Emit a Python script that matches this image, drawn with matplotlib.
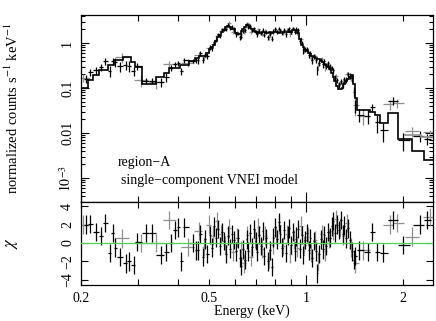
import numpy as np
import matplotlib
matplotlib.use('Agg')
import matplotlib.pyplot as plt
from matplotlib.ticker import FixedLocator, FuncFormatter, NullFormatter

# --- black data set: bin centre (keV), model (counts/s/keV), residual chi, relative error
e_black = [0.2074, 0.2134, 0.2225, 0.2310, 0.2378, 0.2461, 0.2513, 0.2548, 0.2640, 0.2753,
           0.2813, 0.2920, 0.2985, 0.3190, 0.3312, 0.3548, 0.3678, 0.3807, 0.3921, 0.4003,
           0.4096, 0.4185, 0.4455, 0.4555,
           0.462, 0.470, 0.478, 0.486, 0.494, 0.502, 0.510, 0.518, 0.526, 0.534,
           0.542, 0.550, 0.558, 0.566, 0.574, 0.582, 0.590, 0.598, 0.606, 0.614,
           0.622, 0.630, 0.638, 0.646, 0.654, 0.662, 0.670, 0.679, 0.688, 0.697,
           0.706, 0.715, 0.724, 0.733, 0.742, 0.752, 0.762, 0.772, 0.782, 0.792,
           0.802, 0.812, 0.822, 0.833, 0.844, 0.855, 0.866, 0.877, 0.888, 0.899,
           0.910, 0.922, 0.934, 0.946, 0.958, 0.970, 0.982, 0.994, 1.006, 1.019,
           1.032, 1.045, 1.058, 1.071, 1.085, 1.099, 1.113, 1.127, 1.141, 1.156,
           1.171, 1.186, 1.201, 1.217, 1.233, 1.249, 1.265, 1.282, 1.299, 1.316,
           1.334, 1.352, 1.370, 1.388, 1.406, 1.424,
           1.461, 1.558, 1.603, 1.662, 1.734, 1.863, 2.001, 2.260, 2.376]
model_black = [0.10, 0.15, 0.19, 0.25, 0.25, 0.32, 0.32, 0.42, 0.42, 0.49,
               0.49, 0.38, 0.30, 0.12, 0.12, 0.176, 0.215, 0.28, 0.28, 0.28,
               0.33, 0.33, 0.40, 0.46,
               0.46, 0.52, 0.52, 0.52, 0.6, 0.72, 0.8, 0.88, 1.1, 1.35,
               1.5, 1.8, 1.95, 2.25, 2.4, 2.3, 2.1, 2.0, 1.7, 1.55,
               1.6, 1.85, 2.0, 2.3, 2.5, 2.45, 2.2, 2.0, 1.85, 1.75,
               1.72, 1.68, 1.7, 1.72, 1.75, 1.7, 1.68, 1.72, 1.7, 1.74,
               1.76, 1.72, 1.7, 1.75, 1.78, 1.72, 1.75, 1.8, 1.82, 1.78,
               1.9, 1.95, 1.9, 1.7, 1.2, 0.9, 0.8, 0.7, 0.65, 0.6,
               0.56, 0.52, 0.5, 0.47, 0.45, 0.43, 0.4, 0.37, 0.35, 0.33,
               0.3, 0.27, 0.22, 0.18, 0.14, 0.11, 0.095, 0.095, 0.10, 0.12,
               0.14, 0.16, 0.18, 0.19, 0.12, 0.06,
               0.032, 0.032, 0.030, 0.025, 0.017, 0.028, 0.0075, 0.004, 0.0025]
chi_black = [2.0, 2.05, 1.2, 0.75, 2.15, -1.1, 1.1, -0.5, -1.5, -2.2,
             -2.0, -2.4, 0.1, 1.1, 1.1, -1.3, -1.0, 0.0, 1.4, 1.7,
             -2.0, 1.7, 0.0, -0.8,
             -0.8, 1.0, -1.5, 0.4, -1.2, 0.9, -0.5, 1.8, 0.6, 1.5,
             -0.3, 1.2, 0.2, -1.2, 0.8, -0.6, 1.0, 0.3, -0.9, 0.5,
             -1.6, -2.5, -0.7, -1.8, 0.4, -0.9, 1.1, -0.4, 1.5, 0.2,
             -1.0, 0.9, -0.3, 1.3, -1.4, 0.5, -2.0, -0.8, -2.6, 0.6,
             1.7, 0.4, 2.3, 1.0, -0.5, 1.4, -1.1, 0.8, 1.6, -0.2,
             1.2, -0.9, 0.7, 1.5, -0.6, 0.9, -1.3, 0.3, 1.1, -0.8,
             0.5, -1.6, 0.2, -0.9, -3.3, -1.2, 0.4, -0.7, 0.9, -0.3,
             1.2, 0.6, 1.8, 2.4, 1.1, 2.0, 1.4, 2.5, 1.0, 1.9,
             0.5, 1.6, 0.3, -0.9, -1.8, -1.4,
             -0.8, -1.0, 1.2, -1.0, -1.1, 2.5, -0.2, 2.0, 2.5]
rerr_black = [0.30, 0.25, 0.25, 0.22, 0.28, 0.22, 0.20, 0.20, 0.18, 0.15,
              0.18, 0.15, 0.20, 0.20, 0.20, 0.18, 0.18, 0.16, 0.15, 0.15,
              0.14, 0.14, 0.12, 0.12,
              0.14, 0.13, 0.13, 0.13, 0.12, 0.12, 0.11, 0.11, 0.10, 0.10,
              0.10, 0.10, 0.09, 0.09, 0.09, 0.09, 0.09, 0.10, 0.10, 0.10,
              0.10, 0.10, 0.10, 0.09, 0.09, 0.09, 0.09, 0.10, 0.10, 0.10,
              0.10, 0.10, 0.10, 0.10, 0.10, 0.10, 0.10, 0.10, 0.10, 0.10,
              0.10, 0.10, 0.10, 0.10, 0.10, 0.10, 0.10, 0.10, 0.10, 0.10,
              0.10, 0.10, 0.10, 0.10, 0.11, 0.11, 0.12, 0.12, 0.12, 0.12,
              0.12, 0.13, 0.13, 0.13, 0.13, 0.13, 0.13, 0.14, 0.14, 0.14,
              0.14, 0.15, 0.15, 0.16, 0.17, 0.18, 0.19, 0.19, 0.18, 0.17,
              0.16, 0.16, 0.15, 0.15, 0.17, 0.22,
              0.25, 0.25, 0.20, 0.30, 0.30, 0.35, 0.40, 0.60, 0.80]

# --- grey data set
e_grey = [0.2030, 0.2677, 0.3075, 0.3424, 0.3751, 0.4301,
          0.466, 0.482, 0.498, 0.514, 0.530, 0.546, 0.562, 0.578, 0.594, 0.610,
          0.626, 0.642, 0.658, 0.675, 0.693, 0.711, 0.729, 0.747, 0.767, 0.787,
          0.807, 0.827, 0.850, 0.872, 0.894, 0.916, 0.940, 0.964, 0.988, 1.012,
          1.038, 1.064, 1.092, 1.120, 1.148, 1.178, 1.209, 1.241, 1.273, 1.307,
          1.343, 1.379, 1.415,
          1.503, 1.823, 1.917, 2.134, 2.427]
model_grey = [0.10, 0.42, 0.15, 0.135, 0.215, 0.40,
              0.46, 0.52, 0.6, 0.88, 1.1, 1.65, 2.25, 2.4, 2.0, 1.55,
              1.7, 2.3, 2.5, 2.1, 1.75, 1.7, 1.7, 1.72, 1.7, 1.72,
              1.75, 1.72, 1.76, 1.78, 1.8, 1.9, 1.8, 1.0, 0.72, 0.62,
              0.55, 0.49, 0.44, 0.38, 0.34, 0.28, 0.2, 0.12, 0.095, 0.11,
              0.15, 0.185, 0.08,
              0.032, 0.022, 0.022, 0.009, 0.008]
chi_grey = [2.0, 0.5, 0.0, 0.0, 2.5, -0.4,
            1.3, -0.4, 2.0, 0.8, 2.4, 1.0, -0.2, 1.6, -1.0, 0.6,
            -0.8, -2.2, 0.9, -1.5, 0.5, 1.7, -0.6, 0.8, -1.7, -0.2,
            0.9, 2.0, -0.3, 1.0, -1.2, 0.4, -0.5, 1.9, -0.2, 0.7,
            -1.1, 0.3, -2.0, 1.0, -0.9, 0.5, 1.3, 2.6, 1.7, 0.8,
            2.2, -0.5, -2.2,
            -0.8, 2.0, 2.2, 0.7, 2.8]
rerr_grey = [0.35, 0.30, 0.30, 0.30, 0.25, 0.20,
             0.15, 0.14, 0.13, 0.12, 0.12, 0.11, 0.11, 0.10, 0.11, 0.11,
             0.11, 0.10, 0.10, 0.10, 0.11, 0.11, 0.11, 0.11, 0.11, 0.11,
             0.11, 0.11, 0.11, 0.11, 0.11, 0.11, 0.11, 0.12, 0.13, 0.13,
             0.14, 0.14, 0.14, 0.15, 0.15, 0.16, 0.18, 0.20, 0.20, 0.19,
             0.17, 0.16, 0.22,
             0.30, 0.50, 0.50, 0.30, 0.12]

ytick_vals = [1e-3, 1e-2, 0.1, 1]
ytick_labels = ['$10^{-3}$', '0.01', '0.1', '1']
xtick_labels = {0.2: '0.2', 0.5: '0.5', 1: '1', 2: '2'}

plt.rcParams['font.family'] = ['Liberation Serif', 'DejaVu Serif']
plt.rcParams['mathtext.fontset'] = 'stix'
plt.rcParams['font.size'] = 10


def bin_edges(c):
    c = np.asarray(c)
    mid = np.sqrt(c[1:] * c[:-1])
    lo = np.concatenate([[c[0] ** 2 / mid[0]], mid])
    hi = np.concatenate([mid, [c[-1] ** 2 / mid[-1]]])
    return lo, hi


def prepare(e, mod, chi, rerr):
    e = np.array(e); mod = np.array(mod); chi = np.array(chi)
    err = np.array(rerr) * mod
    lo, hi = bin_edges(e)
    xl = np.minimum(e - lo, 0.05 * e)
    xh = np.minimum(hi - e, 0.05 * e)
    return e, mod, mod + chi * err, err, chi, xl, xh, lo, hi


W, H = 436, 321
fig = plt.figure(figsize=(W / 100, H / 100), dpi=100)
ax1 = fig.add_axes([81 / W, 1 - 202 / H, 352 / W, 187 / H])
ax2 = fig.add_axes([81 / W, 1 - 285 / H, 352 / W, 83 / H])

grey = '#8f8f8f'
sets = [(prepare(e_grey, model_grey, chi_grey, rerr_grey), grey),
        (prepare(e_black, model_black, chi_black, rerr_black), 'black')]

for (e, mod, dat, err, chi, xl, xh, lo, hi), col in sets:
    ax1.errorbar(e, dat, yerr=err, xerr=[xl, xh], fmt='none', ecolor=col, elinewidth=0.9, capsize=0)
    ax2.errorbar(e, chi, yerr=1, xerr=[xl, xh], fmt='none', ecolor=col, elinewidth=0.9, capsize=0)

# model steps
e, mod, dat, err, chi, xl, xh, lo, hi = sets[1][0]
edges = np.concatenate([[0.2], hi[:-1], [2.6]])
ax1.stairs(mod, edges, baseline=None, color='black', lw=1.2, zorder=5)
e, mod, dat, err, chi, xl, xh, lo, hi = sets[0][0]
tail = e > 2.0
ax1.stairs(mod[tail], np.concatenate([lo[tail], [2.6]]), baseline=None, color=grey, lw=1.2, zorder=4)

ax2.axhline(0, color='#4fd24f', lw=0.9, zorder=6)

for ax in (ax1, ax2):
    ax.set_xscale('log')
    ax.set_xlim(0.2, 2.48)
    ax.xaxis.set_major_locator(FixedLocator([1]))
    ax.xaxis.set_minor_locator(FixedLocator([0.2, 0.3, 0.4, 0.5, 0.6, 0.7, 0.8, 0.9, 2]))
    ax.tick_params(which='both', direction='in', top=True, right=True, width=0.8)
    ax.tick_params(axis='x', which='major', length=7)
    ax.tick_params(axis='x', which='minor', length=4)
    for s in ax.spines.values():
        s.set_linewidth(0.9)

ax1.set_yscale('log')
ax1.set_ylim(2.93e-4, 4.19)
ax1.yaxis.set_major_locator(FixedLocator(ytick_vals))
ax1.yaxis.set_major_formatter(FuncFormatter(lambda v, p: ytick_labels[ytick_vals.index(v)] if v in ytick_vals else ''))
ax1.yaxis.set_minor_formatter(NullFormatter())
ax1.tick_params(axis='y', which='major', length=6, pad=5)
ax1.tick_params(axis='y', which='minor', length=3)
ax1.tick_params(axis='x', which='both', labelbottom=False)
plt.setp(ax1.get_yticklabels(), rotation=90, va='center')

ax2.set_ylim(-4.55, 4.45)
ax2.set_yticks([-4, -2, 0, 2, 4])
ax2.set_yticklabels(['\u22124', '\u22122', '0', '2', '4'])
ax2.tick_params(axis='y', which='major', length=5, pad=5)
plt.setp(ax2.get_yticklabels(), rotation=90, va='center')
ax2.xaxis.set_major_formatter(FuncFormatter(lambda v, p: xtick_labels.get(round(v, 3), '')))
ax2.xaxis.set_minor_formatter(FuncFormatter(lambda v, p: xtick_labels.get(round(v, 3), '')))
ax2.tick_params(axis='x', which='both', pad=5)

fig.text(252 / W, 1 - 311 / H, 'Energy (keV)', ha='center', va='center')
fig.text(12 / W, 1 - 108 / H, 'normalized counts s$^{-1}$ keV$^{-1}$', rotation=90,
         ha='center', va='center', fontsize=10.5)
fig.text(12 / W, 1 - 243 / H, r'$\chi$', rotation=90, ha='center', va='center', fontsize=12)
fig.text(118 / W, 1 - 163 / H, 'region\u2212A', va='center')
fig.text(121 / W, 1 - 181 / H, 'single\u2212component VNEI model', va='center')

fig.savefig('out.png', dpi=100)
